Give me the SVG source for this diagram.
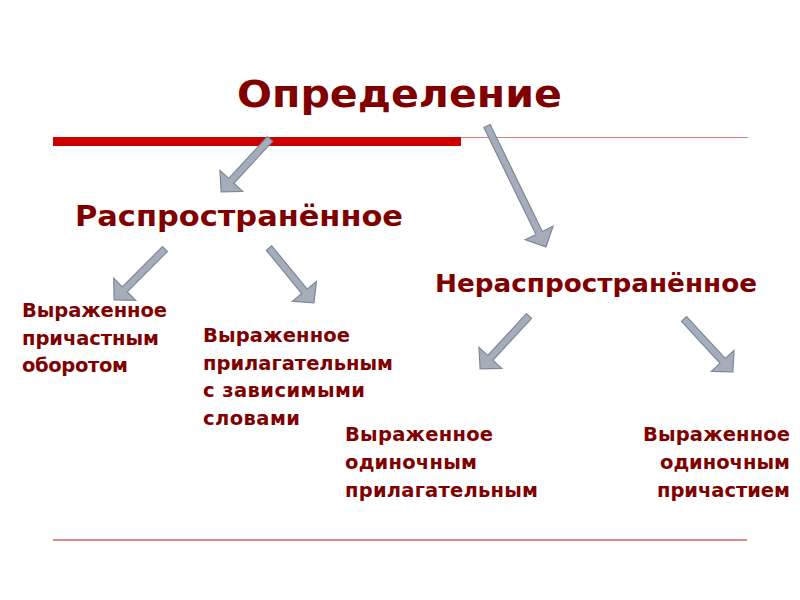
<svg xmlns="http://www.w3.org/2000/svg" width="800" height="600" viewBox="0 0 800 600">
<style>
.t{font-family:"DejaVu Sans","Liberation Sans",sans-serif;font-weight:bold;fill:#800000}
.s{font-size:19.5px}
.arr{fill:#a4adb9;stroke:#7d8998;stroke-width:1.2;stroke-linejoin:miter}
</style>
<rect width="800" height="600" fill="#ffffff"/>
<g id="title">
<text class="t" x="237" y="107" font-size="38" textLength="325" lengthAdjust="spacingAndGlyphs">Определение</text>
</g>
<g id="rules">
<line x1="460" y1="137.5" x2="748" y2="137.5" stroke="#e07a7a" stroke-width="1"/>
<rect x="53" y="137" width="408" height="9" fill="#cc0000"/>
<line x1="53" y1="540" x2="747" y2="540" stroke="#dc8c8c" stroke-width="2"/>
</g>
<g id="node-rasp">
<text class="t" x="75" y="226" font-size="28" textLength="328" lengthAdjust="spacingAndGlyphs">Распространённое</text>
</g>
<g id="node-nerasp">
<text class="t" x="435" y="292" font-size="25" textLength="322" lengthAdjust="spacingAndGlyphs">Нераспространённое</text>
</g>
<g id="node-prich-oborot" class="t s">
<text x="22" y="317" textLength="145">Выраженное</text>
<text x="22" y="345" textLength="137">причастным</text>
<text x="22" y="372" textLength="106">оборотом</text>
</g>
<g id="node-prilag-zavis" class="t s">
<text x="203" y="342" textLength="147">Выраженное</text>
<text x="203" y="370" textLength="190">прилагательным</text>
<text x="203" y="397" textLength="162">с зависимыми</text>
<text x="203" y="425" textLength="97">словами</text>
</g>
<g id="node-odin-prilag" class="t s">
<text x="345" y="441" textLength="148">Выраженное</text>
<text x="345" y="469" textLength="132">одиночным</text>
<text x="345" y="497" textLength="193">прилагательным</text>
</g>
<g id="node-odin-prich" class="t s">
<text x="643" y="441" textLength="147">Выраженное</text>
<text x="660" y="469" textLength="130">одиночным</text>
<text x="657" y="497" textLength="133">причастием</text>
</g>
<g id="connectors">
<polygon class="arr" transform="translate(270,139) rotate(132.75)" points="0,-3.5 57,-3.5 57,-15.5 72,0 57,15.5 57,3.5 0,3.5"/>
<polygon class="arr" transform="translate(487,126) rotate(64)" points="0,-3.5 119,-3.5 119,-15.5 134.5,0 119,15.5 119,3.5 0,3.5"/>
<polygon class="arr" transform="translate(165,249) rotate(135)" points="0,-3.5 57,-3.5 57,-15.5 72,0 57,15.5 57,3.5 0,3.5"/>
<polygon class="arr" transform="translate(269,248) rotate(50.7)" points="0,-3.5 56,-3.5 56,-15.5 71,0 56,15.5 56,3.5 0,3.5"/>
<polygon class="arr" transform="translate(529,316) rotate(132.75)" points="0,-3.5 57,-3.5 57,-15.5 72,0 57,15.5 57,3.5 0,3.5"/>
<polygon class="arr" transform="translate(684,319) rotate(47.25)" points="0,-3.5 57,-3.5 57,-15.5 72,0 57,15.5 57,3.5 0,3.5"/>
</g>
</svg>
